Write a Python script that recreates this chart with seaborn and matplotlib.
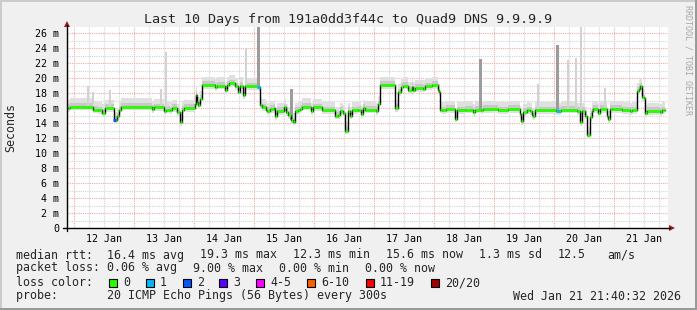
import numpy as np
import matplotlib
matplotlib.use("Agg")
import matplotlib.pyplot as plt
import seaborn as sns
from matplotlib.patches import Rectangle, Polygon
from matplotlib.lines import Line2D

TITLE = "Last 10 Days from 191a0dd3f44c to Quad9 DNS 9.9.9.9"

# hours since Jan 11 21:40 (step series: value holds until next time)
hours = [0, 0.8, 10, 12, 13.6, 14.8, 18.4, 19.6, 20.4, 21.2,
         33.6, 34.4, 38.4, 39.2, 40.8, 41.6, 43.6, 44.8, 45.6, 46.4,
         50.8, 51.2, 51.6, 52, 52.8, 53.6, 58.8, 59.6, 62.8, 63.6,
         64.4, 66.8, 68, 68.8, 70, 70.8, 76, 76.8, 77.6, 79.2,
         79.6, 80.8, 82.4, 82.8, 83.6, 86.4, 87.2, 88, 89.2, 90,
         90.8, 92, 92.8, 93.6, 97.2, 98, 101.6, 106.8, 108, 108.8,
         110, 110.8, 112, 112.8, 113.6, 116, 117.2, 118, 118.8, 123.2,
         124, 124.8, 130.8, 132, 133.2, 134, 136, 137.6, 138, 138.8,
         142, 142.8, 145.6, 148, 148.4, 148.8, 149.6, 151.2, 154.8, 155.6,
         158.8, 162, 162.8, 165.2, 166, 172, 176, 180.8, 181.2, 182,
         183.6, 184.8, 185.6, 186, 186.8, 195.2, 197.2, 203.6, 204.8, 205.6,
         206.8, 207.6, 208.8, 209.6, 210, 212, 212.8, 215.6, 216, 216.8,
         217.6, 221.6, 224.8, 225.6, 227.6, 228.4, 228.8, 229.6, 230.4, 230.8,
         231.6, 236.8, 237.6]
median_ms = [16.0, 16.2, 15.8, 15.7, 15.4, 16.0, 14.4, 14.9, 15.8, 16.2,
             15.9, 16.1, 15.6, 15.8, 15.7, 16.0, 15.5, 14.1, 15.8, 16.0,
             16.6, 17.8, 16.8, 16.4, 17.2, 19.1, 18.8, 19.0, 18.4, 19.1,
             19.3, 18.9, 18.2, 19.0, 17.7, 18.9, 18.8, 16.4, 16.1, 15.8,
             15.6, 15.9, 16.0, 14.9, 15.6, 16.1, 15.5, 15.1, 14.4, 14.2,
             15.6, 15.7, 15.9, 16.2, 15.6, 16.1, 15.7, 15.0, 15.1, 15.6,
             15.3, 13.0, 15.6, 15.0, 15.7, 15.8, 15.2, 16.0, 15.8, 15.6,
             16.5, 19.1, 16.0, 18.1, 18.8, 19.0, 18.4, 18.8, 18.4, 18.7,
             18.6, 18.9, 19.1, 18.4, 18.1, 15.8, 15.7, 15.85, 14.6, 15.7,
             15.8, 15.5, 15.8, 15.7, 15.85, 15.7, 15.85, 15.2, 14.3, 15.5,
             15.7, 15.6, 15.1, 14.9, 15.7, 15.6, 15.8, 15.6, 14.1, 15.6,
             15.0, 12.4, 14.8, 15.6, 15.85, 15.4, 15.85, 15.0, 14.5, 15.85,
             15.9, 15.7, 15.6, 15.7, 18.3, 18.6, 18.9, 17.5, 17.3, 15.3,
             15.6, 15.5, 15.7]
data_end_h = 238.8

loss_event_h = [18.4, 76.0, 196.0]
loss_event_idx = [2, 1, 1]

spike_h = [8.0, 10.0, 16.8, 37.2, 39.2, 71.2, 76.0, 89.2, 164.8, 188.0,
           195.6, 200.0, 203.2, 205.2, 214.8]
spike_top = [19.0, 18.2, 18.4, 18.6, 23.5, 24.0, 27.5, 18.5, 22.6, 19.2,
             24.4, 22.4, 22.7, 27.5, 18.6]
spike_dark = [0, 0, 0, 0, 0, 0, 1, 1, 1, 0, 1, 0, 0, 0, 0]

day_labels = ['12 Jan', '13 Jan', '14 Jan', '15 Jan', '16 Jan',
              '17 Jan', '18 Jan', '19 Jan', '20 Jan', '21 Jan']
y_tick_values = list(range(0, 27, 2))
y_tick_labels = ['0'] + [f'{v} m' for v in range(2, 27, 2)]

loss_labels = ['0', '1', '2', '3', '4-5', '6-10', '11-19', '20/20']
loss_colors = ['#26ff00', '#00b8ff', '#0059ff', '#5e00ff', '#ff00ff',
               '#ff5e00', '#ff0000', '#a10000']

legend_rows = [
    (255, [(16, 'median rtt:  16.4 ms avg'), (200, '19.3 ms max'),
           (293, '12.3 ms min'), (386, '15.6 ms now'), (479, '1.3 ms sd'),
           (558, '12.5'), (607, 'am/s')]),
    (268, [(16, 'packet loss: 0.06 % avg'), (193, '9.00 % max'),
           (279, '0.00 % min'), (365, '0.00 % now')]),
    (282.5, [(16, 'loss color:')]),
    (296, [(16, 'probe:       20 ICMP Echo Pings (56 Bytes) every 300s')]),
]
stamp_text = 'Wed Jan 21 21:40:32 2026'
box_x = [109, 146, 183, 219, 256, 307, 366, 431]

# ---------------------------------------------------------------
sns.set_style('white')
plt.rcParams['font.family'] = ['DejaVu Sans Mono', 'DejaVu Sans']

W, H = 697, 310
LEG_FS = 8.37
fig = plt.figure(figsize=(W / 100, H / 100), dpi=100)
fig.patch.set_facecolor('#f0f0f0')


def P(x, y):
    return (x / W, 1 - y / H)


ax = fig.add_axes([67 / W, 1 - 228 / H, 601 / W, 201 / H])
ax.set_facecolor('white')
ax.set_xlim(-0.4, 240)
ax.set_ylim(0, 26.8)
for s in ax.spines.values():
    s.set_visible(False)

t = np.array(hours + [data_end_h], dtype=float)
m = np.array(median_ms + [median_ms[-1]], dtype=float)

# smoke
ax.fill_between(t, m - 0.5, m + 1.1, step='post', color='#e0e0e0', lw=0, zorder=2)
ax.fill_between(t, m - 0.25, m + 0.5, step='post', color='#c8c8c8', lw=0, zorder=2.1)

sh = np.array(spike_h)
idx = np.searchsorted(t, sh, side='right') - 1
base = m[idx]
top = np.array(spike_top)
dark = np.array(spike_dark, dtype=bool)
ax.bar(sh[~dark], (top - base)[~dark], bottom=base[~dark], width=1.1,
       color='#d2d2d2', lw=0, zorder=2.2)
ax.bar(sh[dark], (top - base)[dark], bottom=base[dark], width=1.2,
       color='#9c9c9c', lw=0, zorder=2.3)

# median
sns.lineplot(x=t, y=m, drawstyle='steps-post', color='black', linewidth=1.0,
             estimator=None, ax=ax, zorder=3)
ax.hlines(m[:-1], t[:-1], t[1:], colors=loss_colors[0], lw=2.0, zorder=4)
for eh, li in zip(loss_event_h, loss_event_idx):
    v = m[np.searchsorted(t, eh, side='right') - 1]
    ax.hlines(v, eh - 0.6, eh + 0.6, colors=loss_colors[li], lw=2.2, zorder=5)

# ticks / grid
first_midnight = 24 - (21 + 40 / 60)
midnights = first_midnight + 24 * np.arange(10)
six = first_midnight + 6 * np.arange(40)
minor_pos = [p for k, p in enumerate(six) if k % 4 != 0]
minor_lab = []
for k, p in enumerate(six):
    if k % 4 == 0:
        continue
    minor_lab.append(day_labels[k // 4] if k % 4 == 2 else '')
ax.set_xticks(midnights)
ax.set_xticklabels([''] * len(midnights))
ax.set_xticks(minor_pos, labels=minor_lab, minor=True)
ax.set_yticks(y_tick_values, labels=y_tick_labels)
ax.set_yticks(list(range(1, 27, 2)), minor=True)

ax.set_axisbelow(True)
dot = (0, (1, 1))
ax.grid(which='major', axis='both', color='#f2a8a8', ls=dot, lw=0.8)
ax.grid(which='minor', axis='both', color='#d2d2d2', ls=dot, lw=0.8)
ax.tick_params(axis='x', which='both', length=2, direction='inout', pad=3.5,
               labelsize=7.2, colors='black', width=0.8)
ax.tick_params(axis='y', which='major', length=2, direction='out', pad=3.5,
               labelsize=7.2, colors='black', width=0.8)
ax.tick_params(axis='y', which='minor', length=0)
ax.set_xlabel('')
ax.set_ylabel('')

# axes lines and arrows
fig.add_artist(Line2D(*zip(P(63, 228), P(670, 228)), color='black', lw=1))
fig.add_artist(Line2D(*zip(P(67, 231), P(67, 25)), color='black', lw=1))
fig.add_artist(Polygon([P(669, 225), P(669, 231), P(675, 228)], closed=True,
                       color='#9a1a1a', lw=0))
fig.add_artist(Polygon([P(64, 27), P(70, 27), P(67, 21)], closed=True,
                       color='#9a1a1a', lw=0))

# frame shading
fig.add_artist(Rectangle(P(0, 2), 1, 2 / H, color='#cbcbcb', lw=0))
fig.add_artist(Rectangle(P(0, 310), 2 / W, 1, color='#cbcbcb', lw=0))
fig.add_artist(Rectangle(P(0, 310), 1, 2 / H, color='#999999', lw=0))
fig.add_artist(Rectangle(P(695, 310), 2 / W, 1, color='#999999', lw=0))

# texts
fig.text(*P(348.5, 19), TITLE, ha='center', va='center', fontsize=9.6)
fig.text(*P(11, 127.5), 'Seconds', rotation=90, ha='center', va='center',
         fontsize=LEG_FS)
fig.text(*P(688, 60), 'RRDTOOL / TOBI OETIKER', rotation=270, ha='center',
         va='center', fontsize=6, color='#a8a8a8')

for y, items in legend_rows:
    for x, s in items:
        fig.text(*P(x, y), s, ha='left', va='center', fontsize=LEG_FS)
fig.text(*P(681, 296), stamp_text, ha='right', va='center', fontsize=LEG_FS)

for bx, lab, col in zip(box_x, loss_labels, loss_colors):
    fig.add_artist(Rectangle(P(bx, 286.5), 7.5 / W, 8 / H, facecolor=col,
                             edgecolor='black', lw=0.8))
    fig.text(*P(bx + 14, 282.5), lab, ha='left', va='center', fontsize=LEG_FS)

fig.savefig('out.png', dpi=100, facecolor=fig.get_facecolor())
